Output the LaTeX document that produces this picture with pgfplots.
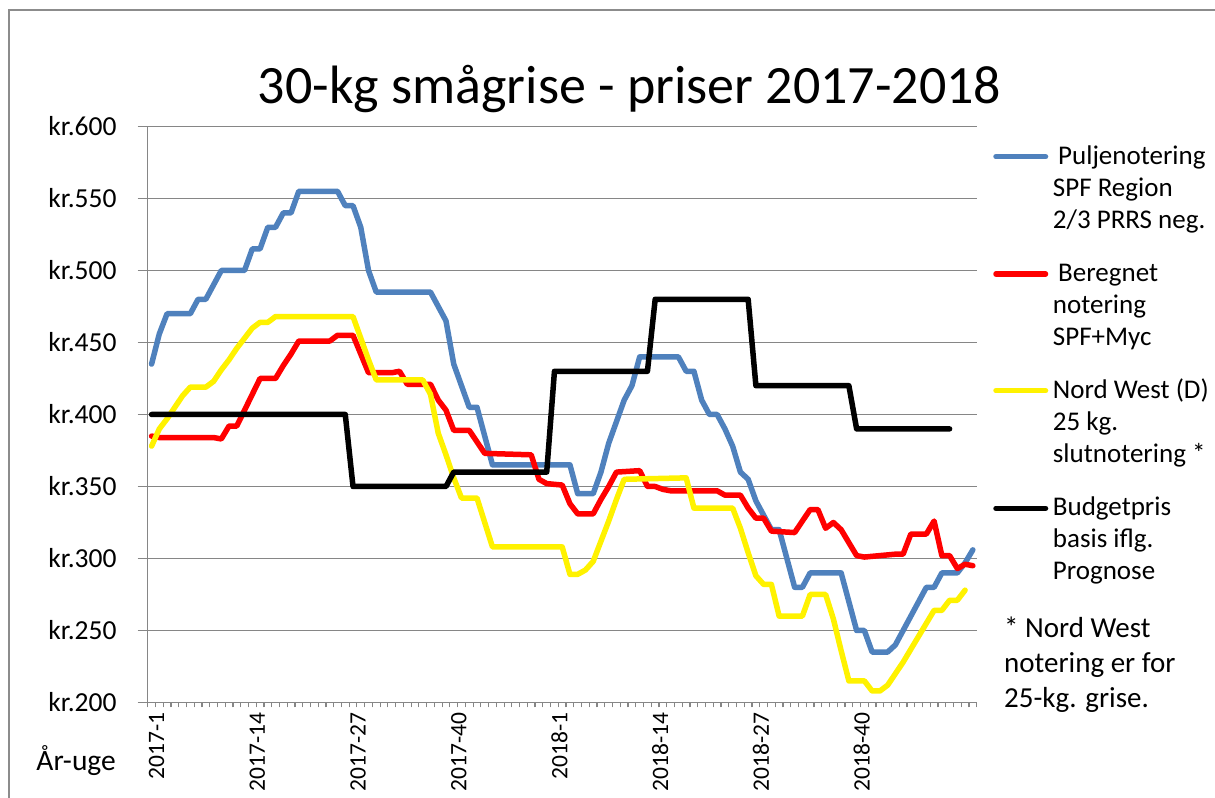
\documentclass[border=0pt]{standalone}
\usepackage{pgfplots}
\pgfplotsset{compat=1.18}
\usepackage{fontspec}
\setmainfont{Carlito}
\definecolor{sblue}{HTML}{4F81BD}
\definecolor{gridgray}{HTML}{868686}
\definecolor{bordergray}{HTML}{8C8C8C}
\newcommand{\legfont}{\fontsize{27bp}{32bp}\selectfont}
\newcommand{\notefont}{\fontsize{29bp}{35bp}\selectfont}
\begin{document}
\begin{tikzpicture}[x=1bp,y=1bp]
\path[use as bounding box] (0,0) rectangle (1215,798);
\draw[bordergray, line width=1.3bp] (9,-5) -- (9,788) -- (1220,788);
\begin{axis}[
  at={(147.7bp,95.5bp)}, anchor=south west,
  scale only axis, width=829bp, height=576bp,
  xmin=-0.5, xmax=106.5, ymin=200, ymax=600,
  axis lines*=left,
  axis line style={gridgray, line width=1.2bp},
  ymajorgrids, grid style={gridgray, line width=1.2bp},
  ytick={200,250,300,350,400,450,500,550,600},
  yticklabels={kr.200,kr.250,kr.300,kr.350,kr.400,kr.450,kr.500,kr.550,kr.600},
  xtick={0,13,26,39,52,65,78,91},
  xticklabels={2017-1,2017-14,2017-27,2017-40,2018-1,2018-14,2018-27,2018-40},
  minor xtick={-0.5,0.5,...,106.5},
  tick align=outside,
  major tick length=10bp, minor tick length=5bp,
  tick style={gridgray, line width=1.2bp},
  major x tick style={draw=none},
  yticklabel style={anchor=east, inner sep=0pt, xshift=-21bp, font=\fontsize{27.5bp}{32bp}\selectfont},
  xticklabel style={rotate=90, anchor=east, inner sep=0pt, yshift=-5bp, font=\fontsize{23.5bp}{28bp}\selectfont},
  every axis plot/.append style={line width=5.5bp, line cap=round, line join=round},
]
\addplot[sblue] coordinates {
(0,435)(1,456)(2,470)(5,470)(6,480)(7,480)(8,490)(9,500)(12,500)(13,515)(14,515)(15,530)(16,530)(17,540)(18,540)(19,555)(24,555)(25,545)(26,545)(27,530)(28,500)(29,485)(36,485)(37,475)(38,465)(39,435)(40,420)(41,405)(42,405)(43,385)(44,365)(54,365)(55,345)(57,345)(58,360)(59,380)(60,395)(61,410)(62,420)(63,440)(68,440)(69,430)(70,430)(71,410)(72,400)(73,400)(74,390)(75,378)(76,360)(77,355)(78,340)(79,330)(80,320)(81,320)(82,300)(83,280)(84,280)(85,290)(89,290)(90,270)(91,250)(92,250)(93,235)(95,235)(96,240)(97,250)(98,260)(99,270)(100,280)(101,280)(102,290)(104,290)(105,297)(106,306)
};
\addplot[red] coordinates {
(0,385)(1,384)(8,384)(9,383)(10,392)(11,392)(12,403)(13,414)(14,425)(16,425)(17,434)(18,442)(19,451)(23,451)(24,455)(26,455)(27,442)(28,429)(31,429)(32,430)(33,421)(36,421)(37,410)(38,403)(39,389)(41,389)(42,381)(43,373)(49,372)(50,355)(51,352)(53,351)(54,338)(55,331)(57,331)(58,341)(59,350)(60,360)(63,361)(64,350)(65,350)(66,348)(67,347)(73,347)(74,344)(76,344)(77,335)(78,328)(79,328)(80,319)(83,318)(84,326)(85,334)(86,334)(87,321)(88,325)(89,320)(90,311)(91,302)(92,301)(96,303)(97,303)(98,317)(100,317)(101,326)(102,302)(103,302)(104,293)(105,296)(106,295)
};
\addplot[yellow] coordinates {
(0,378)(1,390)(2,397)(3,405)(4,413)(5,419)(7,419)(8,423)(9,431)(10,438)(11,446)(12,453)(13,460)(14,464)(15,464)(16,468)(26,468)(27,453)(28,438)(29,424)(35,424)(36,414)(37,387)(38,372)(39,356)(40,342)(42,342)(43,325)(44,308)(53,308)(54,289)(55,289)(56,292)(57,298)(58,312)(59,326)(60,341)(61,355)(69,356)(70,335)(75,335)(76,321)(77,304)(78,288)(79,282)(80,282)(81,260)(84,260)(85,275)(87,275)(88,258)(89,236)(90,215)(92,215)(93,208)(94,208)(95,212)(96,220)(97,228)(98,237)(99,246)(100,255)(101,264)(102,264)(103,271)(104,271)(105,278)
};
\addplot[black] coordinates {
(0,400)(25,400)(26,350)(38,350)(39,360)(51,360)(52,430)(64,430)(65,480)(77,480)(78,420)(90,420)(91,390)(103,390)
};
\end{axis}
% title
\node[anchor=base, inner sep=0pt, font=\fontsize{54bp}{64bp}\selectfont] at (629.5,694.7) {30-kg smågrise - priser 2017-2018};
% axis label
\node[anchor=base east, inner sep=0pt, font=\fontsize{29.5bp}{34bp}\selectfont] at (116,27) {År-uge};
% legend
\draw[sblue, line width=5.5bp, line cap=round] (996,641.3) -- (1045.5,641.3);
\node[anchor=base west, inner sep=0pt, font=\legfont] at (1058,633.6) {Puljenotering};
\node[anchor=base west, inner sep=0pt, font=\legfont] at (1052.7,601.6) {SPF Region};
\node[anchor=base west, inner sep=0pt, font=\legfont] at (1052.7,569.6) {2/3 PRRS neg.};
\draw[red, line width=5.5bp, line cap=round] (996,524) -- (1045.5,524);
\node[anchor=base west, inner sep=0pt, font=\legfont] at (1058,516.3) {Beregnet};
\node[anchor=base west, inner sep=0pt, font=\legfont] at (1052.7,484.3) {notering};
\node[anchor=base west, inner sep=0pt, font=\legfont] at (1052.7,452.3) {SPF+Myc};
\draw[yellow, line width=5.5bp, line cap=round] (996,407.3) -- (1045.5,407.3);
\node[anchor=base west, inner sep=0pt, font=\legfont] at (1052.7,399.6) {Nord West (D)};
\node[anchor=base west, inner sep=0pt, font=\legfont] at (1052.7,367.6) {25 kg.};
\node[anchor=base west, inner sep=0pt, font=\legfont] at (1052.7,335.6) {slutnotering *};
\draw[black, line width=5.5bp, line cap=round] (996,289.7) -- (1045.5,289.7);
\node[anchor=base west, inner sep=0pt, font=\legfont] at (1052.7,282) {Budgetpris};
\node[anchor=base west, inner sep=0pt, font=\legfont] at (1052.7,250) {basis iflg.};
\node[anchor=base west, inner sep=0pt, font=\legfont] at (1052.7,218) {Prognose};
% footnote
\node[anchor=base west, inner sep=0pt, font=\notefont] at (1004,160.3) {* Nord West};
\node[anchor=base west, inner sep=0pt, font=\notefont] at (1004,125) {notering er for};
\node[anchor=base west, inner sep=0pt, font=\notefont] at (1004,90) {25-kg. grise.};
\end{tikzpicture}
\end{document}
